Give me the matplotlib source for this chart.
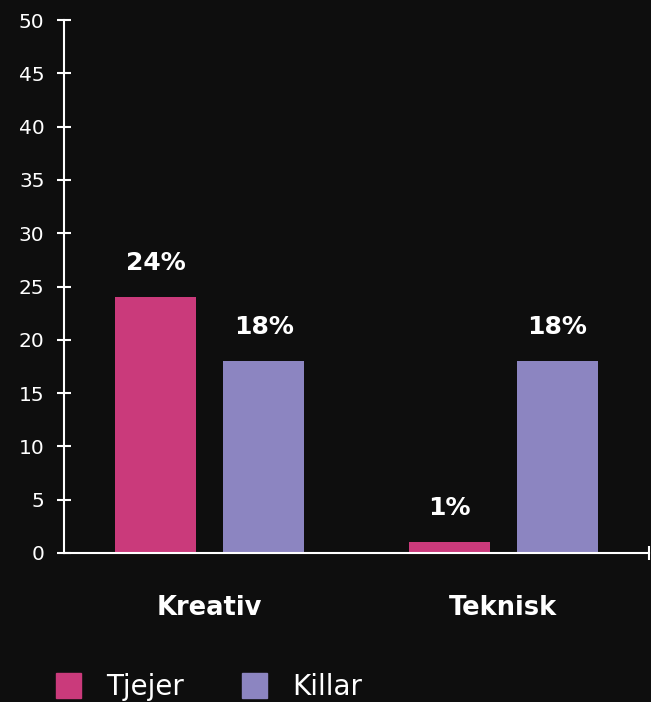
import matplotlib
matplotlib.use("Agg")
import matplotlib.pyplot as plt
import numpy as np
from matplotlib.lines import Line2D

categories = ["Kreativ", "Teknisk"]
series = ["Tjejer", "Killar"]
tjejer = [24, 1]
killar = [18, 18]
yticks = [0, 5, 10, 15, 20, 25, 30, 35, 40, 45, 50]

BG = "#0e0e0e"
PINK = "#ca3a7b"
PURPLE = "#8c85c1"
WHITE = "#ffffff"

fig = plt.figure(figsize=(6.51, 7.02), dpi=100, facecolor=BG)
ax = fig.add_axes([64 / 651, 1 - 553 / 702, 585 / 651, 533 / 702])
ax.set_facecolor(BG)

x = np.arange(len(categories))
off, w = 0.184, 0.276
b1 = ax.bar(x - off, tjejer, w, color=PINK)
b2 = ax.bar(x + off, killar, w, color=PURPLE)
for bars in (b1, b2):
    ax.bar_label(bars, labels=[f"{v}%" for v in bars.datavalues], padding=16,
                 color=WHITE, fontsize=18, fontweight="bold")

ax.set_xlim(-0.496, 1.497)
ax.set_ylim(0, 50)
ax.set_yticks(yticks)

for s in ("top", "right"):
    ax.spines[s].set_visible(False)
for s in ("left", "bottom"):
    ax.spines[s].set_color(WHITE)
    ax.spines[s].set_linewidth(1.5)

ax.tick_params(axis="y", direction="inout", length=10, width=1.5, color=WHITE,
               labelcolor=WHITE, labelsize=14.5, pad=9)
ax.set_xticks(x)
ax.set_xticklabels(categories, fontsize=18.5, fontweight="bold", color=WHITE)
ax.tick_params(axis="x", which="major", length=0, pad=30)
ax.set_xticks([ax.get_xlim()[1]], minor=True)
ax.tick_params(axis="x", which="minor", direction="inout", length=10, width=1.5,
               color=WHITE)

handles = [Line2D([], [], marker="s", ls="none", markersize=18, color=c)
           for c in (PINK, PURPLE)]
fig.legend(handles, series, loc="center left", bbox_to_anchor=(55 / 651, 0.022),
           ncol=2, frameon=False, fontsize=20, labelcolor=WHITE,
           handlelength=0.9, handletextpad=0.95, columnspacing=2.05,
           borderpad=0, borderaxespad=0)

fig.savefig("out.png", dpi=100, facecolor=BG)
